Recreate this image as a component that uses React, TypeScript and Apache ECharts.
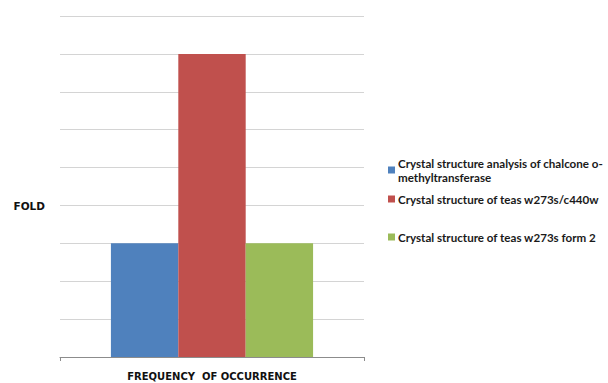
import React, { useEffect, useRef } from "react";
import * as echarts from "echarts";

const categories = [""];
const seriesNames = [
  "Crystal structure analysis of chalcone o-\nmethyltransferase",
  "Crystal structure of teas w273s/c440w",
  "Crystal structure of teas w273s form 2",
];
const seriesValues = [[3], [8], [3]];
const seriesColors = ["#4F81BD", "#C0504D", "#9BBB59"];
const legendTops = [149, 192, 230];

const LEGEND_FONT = "Lato, 'Liberation Sans', sans-serif";
const AXIS_FONT = "'DejaVu Sans', Verdana, sans-serif";

export default function App() {
  const ref = useRef<HTMLDivElement>(null);

  useEffect(() => {
    document.body.style.margin = "0";
    if (!ref.current) return;
    const chart = echarts.init(ref.current, undefined, { renderer: "svg" });
    const series = seriesNames.map((name, i) => ({
      name,
      type: "bar" as const,
      data: seriesValues[i],
      barGap: "0%",
      barCategoryGap: "33.5%",
      itemStyle: { color: seriesColors[i] },
    }));
    const legends = seriesNames.map((name, i) => ({
      show: true,
      data: [name],
      left: 388,
      top: legendTops[i],
      orient: "vertical" as const,
      itemWidth: 7,
      itemHeight: 7,
      itemGap: 0,
      padding: 0,
      icon: "rect",
      selectedMode: false,
      textStyle: {
        fontFamily: LEGEND_FONT,
        fontSize: 11.6,
        fontWeight: "bold" as const,
        color: "#1a1a1a",
        lineHeight: 14,
        padding: name.includes("\n") ? [14, 0, 0, -2] : [0, 0, 0, -2],
      },
    }));
    chart.setOption({
      animation: false,
      backgroundColor: "#ffffff",
      grid: {
        left: 60,
        right: 244,
        top: 16,
        bottom: 26,
        containLabel: false,
        outerBoundsMode: "none",
      },
      legend: legends,
      xAxis: {
        type: "category",
        data: categories,
        name: "FREQUENCY  OF OCCURRENCE",
        nameLocation: "middle",
        nameGap: 14,
        nameTextStyle: {
          fontFamily: AXIS_FONT,
          fontSize: 10,
          fontWeight: "bold",
          color: "#111111",
        },
        axisLine: { lineStyle: { color: "#8c8c8c", width: 1 } },
        axisTick: { show: true, length: 4, lineStyle: { color: "#8c8c8c" } },
        axisLabel: { show: false },
      },
      yAxis: {
        type: "value",
        min: 0,
        max: 9,
        interval: 1,
        name: "FOLD",
        nameLocation: "middle",
        nameRotate: 0,
        nameGap: 15,
        nameTextStyle: {
          fontFamily: AXIS_FONT,
          fontSize: 10.5,
          fontWeight: "bold",
          color: "#111111",
          align: "right",
          verticalAlign: "top",
          lineHeight: 38,
        },
        axisLine: { show: false },
        axisTick: { show: false },
        axisLabel: { show: false },
        splitLine: { lineStyle: { color: "#d4d4d4", width: 1 } },
      },
      series,
    });
    return () => chart.dispose();
  }, []);

  return <div ref={ref} style={{ width: 608, height: 383 }} />;
}
